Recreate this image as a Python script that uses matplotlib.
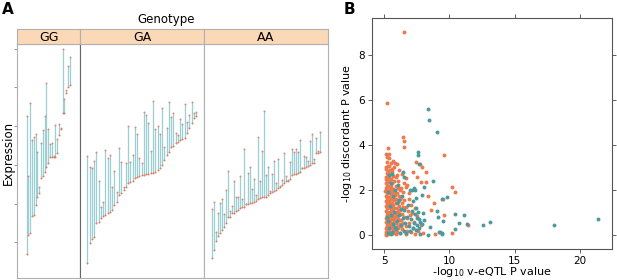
import matplotlib
matplotlib.use('Agg')

import matplotlib.pyplot as plt

# ---- panel A: expression pairs per genotype (lower, upper), sorted by lower
genotypes = ["GG", "GA", "AA"]

gg_low = [7.0, 11.9, 12.5, 16.9, 17.1, 19.5, 21.6, 22.7, 26.5, 27.1, 28.2, 29.5, 30.4,
          31.9, 32.1, 32.1, 32.1, 33.0, 37.7, 39.2, 43.3, 43.3, 48.5, 50.2, 50.6]
gg_high = [42.7, 27.1, 45.9, 36.4, 37.3, 37.9, 33.2, 24.4, 35.7, 39.0, 42.5, 51.2, 39.2,
           35.4, 35.6, 32.2, 40.3, 36.7, 40.6, 39.4, 59.9, 47.0, 49.4, 55.4, 57.8]

ga_low = [4.6, 9.7, 10.9, 11.3, 14.9, 15.2, 16.2, 16.8, 17.1, 17.6, 17.9, 18.3, 19.6,
          20.5, 22.2, 22.7, 23.5, 24.4, 25.2, 25.5, 25.7, 26.6, 26.9, 27.1, 27.4, 27.5,
          27.6, 27.7, 27.8, 27.9, 28.2, 28.7, 29.2, 30.0, 31.3, 32.6, 33.3, 34.6, 34.9,
          35.7, 36.0, 36.4, 36.7, 36.9, 38.2, 39.5, 40.7, 42.1, 42.6]
ga_high = [32.4, 29.5, 29.1, 31.0, 33.2, 25.7, 19.2, 20.5, 33.9, 31.7, 32.6, 24.4, 28.5,
           23.1, 34.3, 30.8, 24.4, 30.4, 39.9, 30.8, 32.6, 39.7, 38.0, 31.7, 30.6, 43.7,
           42.9, 40.9, 33.6, 46.6, 39.2, 40.1, 38.0, 44.6, 34.7, 39.6, 46.1, 42.3, 43.5,
           38.3, 37.7, 41.9, 40.5, 45.7, 41.0, 42.9, 46.3, 43.3, 43.6]

aa_low = [5.9, 8.0, 10.3, 11.6, 12.3, 13.2, 13.9, 15.1, 16.5, 16.6, 17.5, 17.5, 18.1,
          18.3, 18.8, 19.2, 19.2, 19.9, 19.9, 20.1, 20.2, 20.5, 20.7, 21.2, 21.4, 21.6,
          21.8, 21.8, 22.2, 22.7, 23.0, 23.3, 23.5, 24.0, 24.4, 24.7, 25.2, 25.7, 25.9,
          26.3, 27.4, 27.6, 27.7, 28.0, 28.2, 29.1, 29.1, 29.4, 29.7, 30.0, 30.4, 30.6,
          33.0, 33.1, 33.2]
aa_high = [18.5, 20.5, 12.7, 17.5, 20.1, 21.2, 17.3, 23.5, 28.4, 18.2, 19.4, 25.9, 21.8,
           21.8, 27.0, 21.1, 34.0, 20.0, 28.0, 29.4, 23.7, 26.3, 22.2, 37.3, 25.7, 33.6,
           44.0, 27.4, 29.5, 23.3, 27.6, 31.1, 25.2, 31.5, 24.5, 26.1, 33.0, 27.0, 26.1,
           30.8, 34.1, 33.2, 34.2, 33.2, 36.3, 29.3, 32.3, 31.9, 31.0, 36.2, 38.0, 31.4,
           36.9, 33.6, 38.4]

expr_ticks = [10, 20, 30, 40, 50, 60]

# ---- panel B: -log10 v-eQTL P vs -log10 discordant P
orange_pts = [
    (6.53, 9.0), (5.25, 5.88), (6.43, 4.34), (6.55, 4.18), (6.53, 3.93), (5.28, 3.88),
    (9.61, 3.56), (7.45, 3.26), (7.75, 3.16), (7.9, 3.04), (7.2, 2.81), (8.19, 2.81),
    (6.68, 2.52), (7.55, 2.56), (7.83, 2.34), (8.21, 2.34), (6.78, 2.22), (6.68, 2.15),
    (10.18, 2.12), (10.43, 1.90), (9.54, 1.6), (8.85, 1.41), (8.39, 1.75), (8.6, 1.11),
    (9.61, 0.89), (11.46, 0.44), (10.18, 0.08), (8.9, 0.04),
    (5.12, 0.02), (5.15, 0.12), (5.2, 0.22), (5.14, 0.33), (5.22, 0.45), (5.16, 0.56),
    (5.25, 0.66), (5.13, 0.77), (5.2, 0.88), (5.27, 0.98), (5.15, 1.08), (5.22, 1.19),
    (5.12, 1.3), (5.26, 1.41), (5.18, 1.52), (5.24, 1.63), (5.14, 1.74), (5.2, 1.86),
    (5.28, 1.97), (5.16, 2.08), (5.23, 2.2), (5.13, 2.33), (5.26, 2.46), (5.18, 2.6),
    (5.22, 2.75), (5.15, 2.92), (5.27, 3.08), (5.2, 3.25), (5.24, 3.45), (5.17, 3.62),
    (5.33, 0.05), (5.4, 0.15), (5.36, 0.28), (5.45, 0.38), (5.32, 0.5), (5.48, 0.6),
    (5.38, 0.72), (5.5, 0.83), (5.35, 0.94), (5.43, 1.04), (5.52, 1.15), (5.37, 1.26),
    (5.46, 1.37), (5.34, 1.48), (5.5, 1.58), (5.41, 1.7), (5.53, 1.82), (5.36, 1.93),
    (5.45, 2.04), (5.33, 2.16), (5.5, 2.28), (5.4, 2.42), (5.36, 2.58), (5.48, 2.72),
    (5.42, 2.9), (5.35, 3.05), (5.5, 3.2), (5.38, 3.42),
    (5.58, 0.08), (5.66, 0.2), (5.6, 0.33), (5.72, 0.42), (5.63, 0.55), (5.78, 0.65),
    (5.68, 0.76), (5.58, 0.88), (5.75, 0.97), (5.62, 1.1), (5.8, 1.2), (5.7, 1.32),
    (5.6, 1.44), (5.76, 1.55), (5.66, 1.68), (5.82, 1.8), (5.6, 1.92), (5.72, 2.06),
    (5.64, 2.3), (5.8, 2.42), (5.7, 2.62), (5.6, 2.8), (5.76, 3.0), (5.66, 3.3),
    (5.9, 0.04), (6.0, 0.15), (5.88, 0.3), (6.08, 0.42), (5.95, 0.55), (6.15, 0.68),
    (6.02, 0.8), (5.9, 0.92), (6.1, 1.05), (5.98, 1.18), (6.18, 1.3), (6.05, 1.45),
    (5.92, 1.6), (6.12, 1.72), (6.0, 1.88), (6.2, 2.0), (5.95, 2.2), (6.1, 2.4),
    (6.02, 2.65), (6.15, 2.9), (5.98, 3.15),
    (6.25, 0.1), (6.35, 0.25), (6.28, 0.4), (6.45, 0.52), (6.3, 0.66), (6.5, 0.8),
    (6.38, 0.95), (6.25, 1.1), (6.48, 1.25), (6.35, 1.42), (6.55, 1.55), (6.28, 1.7),
    (6.42, 1.9), (6.3, 2.1), (6.5, 2.3), (6.35, 2.7),
    (6.65, 0.05), (6.78, 0.2), (6.7, 0.4), (6.9, 0.55), (6.75, 0.75), (7.0, 0.9),
    (6.85, 1.05), (6.7, 1.25), (7.1, 1.35), (6.9, 1.6), (7.2, 0.3), (7.05, 0.12),
    (7.3, 0.6), (7.15, 1.0), (6.95, 1.85), (7.35, 1.2), (7.4, 0.05), (7.6, 0.2),
    (7.55, 0.85), (7.8, 0.45), (8.0, 0.1),
    # extra density in the main cluster
    (5.18, 0.05), (5.3, 0.18), (5.24, 0.35), (5.42, 0.48), (5.28, 0.58), (5.55, 0.7),
    (5.3, 0.8), (5.44, 0.92), (5.21, 1.02), (5.58, 1.2), (5.3, 1.33), (5.4, 1.5),
    (5.28, 1.68), (5.62, 1.62), (5.42, 1.86), (5.25, 2.02), (5.56, 2.12), (5.3, 2.35),
    (5.52, 2.5), (5.28, 2.65), (5.58, 2.95), (5.3, 2.85), (5.12, 2.5), (5.1, 1.95),
    (5.7, 0.08), (5.82, 0.22), (5.74, 0.58), (5.86, 0.8), (5.7, 1.12), (5.88, 1.42),
    (5.74, 1.9), (5.9, 2.58), (5.82, 3.2), (6.05, 0.3), (6.2, 0.5), (6.1, 0.72),
    (6.22, 0.92), (6.0, 1.02), (6.25, 1.62), (6.08, 2.1), (5.14, 3.0), (5.35, 3.62),
]

teal_pts = [
    (8.39, 5.59), (8.44, 5.11), (9.06, 4.59), (7.58, 3.70), (7.58, 3.56), (7.7, 3.14),
    (6.53, 2.59), (8.77, 2.41), (7.12, 2.0), (7.37, 2.0), (7.43, 1.63), (8.09, 2.15),
    (7.88, 1.78), (9.8, 1.67), (9.41, 1.58), (9.03, 1.08), (9.16, 0.81), (9.54, 0.64),
    (10.46, 0.92), (11.15, 0.89), (10.71, 0.55), (11.33, 0.48), (12.6, 0.43),
    (13.11, 0.59), (18.03, 0.44), (21.37, 0.73), (10.43, 0.25), (9.41, 0.1),
    (9.24, 0.15), (8.52, 0.37), (8.34, 0.0), (8.0, 0.99), (8.09, 0.67), (7.7, 0.7),
    (7.88, 0.49), (9.28, 0.12), (9.46, 0.03),
    (5.28, 0.08), (5.4, 0.32), (5.3, 0.62), (5.5, 0.9), (5.45, 1.3), (5.62, 0.15),
    (5.7, 0.48), (5.75, 1.02), (5.65, 1.72), (5.5, 2.32), (5.38, 2.65), (5.92, 0.25),
    (6.02, 0.62), (5.96, 1.42), (6.12, 0.9), (6.2, 0.08), (6.32, 0.45), (6.36, 1.72),
    (6.42, 0.75), (6.52, 0.2), (6.56, 1.12), (6.62, 0.55), (6.72, 0.1), (6.76, 0.82),
    (6.86, 1.32), (6.92, 0.4), (6.98, 2.02), (7.02, 0.18), (7.06, 0.72), (7.12, 1.08),
    (7.18, 0.32), (7.22, 1.52), (7.26, 0.55), (7.32, 2.1), (7.36, 0.92), (7.42, 0.22),
    (7.46, 1.22), (7.52, 0.45), (7.56, 0.75), (7.62, 1.02), (7.66, 0.3), (7.72, 0.6),
    (7.76, 0.05), (5.22, 0.82), (5.32, 1.92), (6.06, 2.22), (6.46, 2.82), (5.86, 2.02),
    (5.55, 0.05), (5.82, 0.35), (6.15, 1.55), (6.28, 1.15), (5.6, 2.7),
]

W, H = 617, 280
fig = plt.figure(figsize=(W / 100, H / 100), dpi=100)


def px_box(x0, y0, x1, y1):
    # pixel box (top-left origin) -> figure fraction rect
    return [x0 / W, 1 - y1 / H, (x1 - x0) / W, (y1 - y0) / H]


seg_color = "#9ccfd2"
dot_color = "#e07a5f"
light_edge = "#b0b0b0"

panels = [(gg_low, gg_high, 17, 80), (ga_low, ga_high, 80, 204), (aa_low, aa_high, 204, 328)]
# left/right margins in index units for each panel
margins = [(5.4, 5.75), (3.2, 3.5), (3.85, 4.2)]

for i, ((lo, hi, x0, x1), (ml, mr)) in enumerate(zip(panels, margins)):
    ax = fig.add_axes(px_box(x0, 44, x1, 278))
    xs = list(range(len(lo)))
    ax.vlines(xs, lo, hi, color=seg_color, linewidth=0.9, zorder=1)
    ax.plot(xs, lo, 'o', color=dot_color, markersize=1.4, markeredgewidth=0, zorder=2)
    ax.plot(xs, hi, 'o', color="#d98a78", markersize=1.4, markeredgewidth=0, zorder=2)
    ax.set_xlim(-ml, len(lo) - 1 + mr)
    ax.set_ylim(0.78, 61.2)
    ax.set_xticks([])
    for s in ax.spines.values():
        s.set_color(light_edge)
        s.set_linewidth(0.8)
    if i == 0:
        ax.set_yticks(expr_ticks)
        ax.set_yticklabels([])
        ax.tick_params(axis='y', length=2, width=0.6, color="#888888")
        ax.spines['right'].set_color("#666666")
    else:
        ax.set_yticks([])
    if i == 1:
        ax.spines['left'].set_color("#666666")

    # strip
    sax = fig.add_axes(px_box(x0, 29, x1, 44))
    sax.set_facecolor("#fcd9b6")
    sax.set_xticks([])
    sax.set_yticks([])
    for s in sax.spines.values():
        s.set_color(light_edge)
        s.set_linewidth(0.8)
    sax.text(0.5, 0.45, genotypes[i], ha='center', va='center', fontsize=9,
             transform=sax.transAxes)

fig.text(166 / W, 1 - 20 / H, "Genotype", ha='center', va='center', fontsize=8.5)
fig.text(8 / W, 1 - 153 / H, "Expression", ha='center', va='center', fontsize=8.5,
         rotation=90)
fig.text(2 / W, 1 - 10 / H, "A", ha='left', va='center', fontsize=11, fontweight='bold')
fig.text(344 / W, 1 - 9 / H, "B", ha='left', va='center', fontsize=11, fontweight='bold')

# ---- panel B
bx = fig.add_axes(px_box(372, 18, 612, 249))
bx.scatter([p[0] for p in orange_pts], [p[1] for p in orange_pts], s=8,
           color="#ec7a4f", linewidths=0, zorder=2)
bx.scatter([p[0] for p in teal_pts], [p[1] for p in teal_pts], s=8,
           color="#4c9a9c", linewidths=0, zorder=3)
bx.set_xlim(4.08, 22.45)
bx.set_ylim(-0.62, 9.64)
bx.set_xticks([5, 10, 15, 20])
bx.set_yticks([0, 2, 4, 6, 8])
bx.tick_params(labelsize=7.5, length=3, width=0.6, top=True, right=True,
               color="#444444", pad=2)
for s in bx.spines.values():
    s.set_color("#555555")
    s.set_linewidth(0.8)
bx.set_xlabel("-log$_{10}$ v-eQTL P value", fontsize=8, labelpad=-1)
bx.set_ylabel("-log$_{10}$ discordant P value", fontsize=8, labelpad=3)

fig.savefig("out.png", dpi=100)
